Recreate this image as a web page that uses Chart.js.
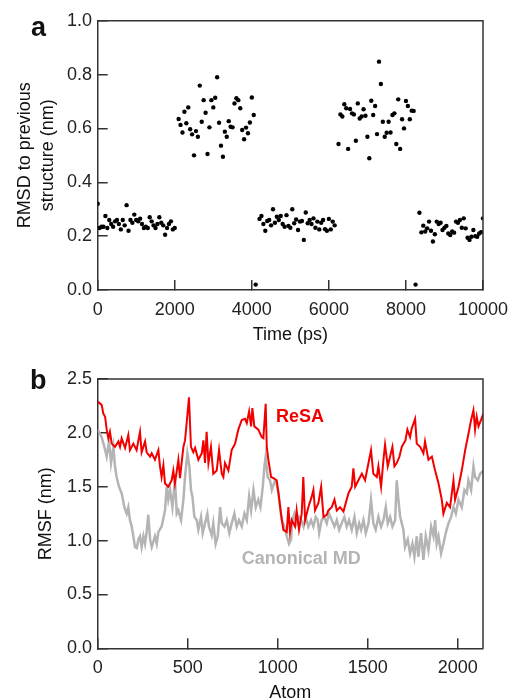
<!DOCTYPE html>
<html>
<head>
<meta charset="utf-8">
<script src="https://cdn.jsdelivr.net/npm/chart.js@4.4.1/dist/chart.umd.min.js"></script>
<style>
html, body { margin: 0; padding: 0; background: #fff; overflow: hidden; }
#wrap { position: relative; width: 515px; height: 700px; }
.panel { position: absolute; left: 0; width: 515px; }
#pa { top: 0; height: 350px; }
#pb { top: 350px; height: 370px; }
.tag { position: absolute; font: bold 27px "Liberation Sans", Arial, sans-serif; line-height: 27px; color: #111; }
</style>
</head>
<body>
<div id="wrap">
	<div class="panel" id="pa"><canvas id="chart-a"></canvas></div>
	<div class="panel" id="pb"><canvas id="chart-b"></canvas></div>
	<div class="tag" style="left:31px; top:14px;">a</div>
	<div class="tag" style="left:30px; top:367px;">b</div>
</div>
<script>
// ── panel a: RMSD to previous structure, one sample every 50 ps ──
var RMSD_STEP = 50;
var rmsdValue = [
	// 0 - 2000 ps
	0.32, 0.23, 0.235, 0.235, 0.275, 0.23, 0.26, 0.245, 0.235, 0.255,
	0.26, 0.245, 0.225, 0.26, 0.24, 0.315, 0.22, 0.26, 0.25, 0.28,
	0.26, 0.255, 0.265, 0.245, 0.23, 0.235, 0.23, 0.27, 0.255, 0.24,
	0.23, 0.245, 0.27, 0.25, 0.24, 0.205, 0.23, 0.245, 0.255, 0.225,
	0.23,
	null,
	// 2100 - 4050 ps
	0.635, 0.613, 0.585, 0.662, 0.619, 0.678, 0.597, 0.578, 0.50, 0.59,
	0.569, 0.759, 0.625, 0.705, 0.658, 0.505, 0.604, 0.705, 0.678, 0.714,
	0.79, 0.621, 0.536, 0.495, 0.588, 0.569, 0.627, 0.606, 0.604, 0.693,
	0.712, 0.705, 0.675, 0.594, 0.56, 0.603, 0.582, 0.622, 0.715, 0.65,
	0.02,
	null,
	// 4200 - 6150 ps
	0.264, 0.275, 0.245, 0.22, 0.256, 0.26, 0.24, 0.30, 0.25, 0.272,
	0.26, 0.275, 0.245, 0.235, 0.278, 0.238, 0.231, 0.30, 0.248, 0.262,
	0.223, 0.254, 0.256, 0.186, 0.288, 0.248, 0.26, 0.245, 0.266, 0.231,
	0.254, 0.225, 0.25, 0.26, 0.226, 0.22, 0.264, 0.225, 0.254, 0.24,
	null,
	// 6250 - 8200 ps
	0.542, 0.652, 0.644, 0.69, 0.675, 0.524, 0.672, 0.656, 0.652, 0.554,
	0.693, 0.637, 0.644, 0.671, 0.647, 0.569, 0.489, 0.703, 0.65, 0.683,
	0.579, 0.848, 0.765, 0.625, 0.569, 0.584, 0.625, 0.585, 0.65, 0.656,
	0.542, 0.708, 0.524, 0.634, 0.60, 0.702, 0.683, 0.634, 0.666, 0.665,
	0.02,
	null,
	// 8350 - 10000 ps
	0.287, 0.214, 0.239, 0.217, 0.229, 0.254, 0.22, 0.18, 0.207, 0.254,
	0.245, 0.25, 0.223, 0.231, 0.238, 0.21, 0.204, 0.217, 0.213, 0.254,
	0.25, 0.26, 0.231, 0.266, 0.229, 0.194, 0.186, 0.198, 0.223, 0.20,
	0.198, 0.21, 0.215, 0.266
];
var timeTicks = [0, 2000, 4000, 6000, 8000, 10000];
var rmsdTicks = [0.0, 0.2, 0.4, 0.6, 0.8, 1.0];

// ── panel b: RMSF per atom ──
var resaAtom = [0, 22, 31, 41, 50, 59, 68, 78, 96, 115,
	124, 133, 152, 170, 179, 198, 216, 235, 244, 263,
	272, 291, 300, 318, 337, 346, 355, 365, 374, 392,
	411, 420, 429, 448, 457, 466, 476, 485, 494, 507,
	518, 531, 541, 559, 578, 587, 596, 605, 615, 629,
	642, 661, 674, 689, 698, 707, 726, 744, 763, 781,
	800, 818, 828, 841, 852, 859, 870, 892, 911, 920,
	933, 939, 948, 963, 976, 994, 1004, 1018, 1031, 1050,
	1059, 1068, 1078, 1096, 1105, 1118, 1133, 1142, 1152, 1170,
	1189, 1198, 1207, 1226, 1241, 1254, 1272, 1281, 1300, 1315,
	1328, 1346, 1365, 1378, 1393, 1411, 1420, 1430, 1448, 1467,
	1485, 1504, 1518, 1531, 1550, 1559, 1574, 1587, 1596, 1611,
	1624, 1637, 1648, 1661, 1676, 1689, 1709, 1720, 1735, 1744,
	1763, 1772, 1791, 1809, 1818, 1837, 1856, 1874, 1893, 1911,
	1920, 1939, 1957, 1976, 1985, 2004, 2022, 2041, 2059, 2074,
	2087, 2096, 2105, 2115, 2129, 2142];
var resaRmsf = [2.29, 2.26, 2.18, 2.15, 2.03, 1.95, 2.01, 1.90, 1.87, 1.92,
	1.87, 1.95, 1.86, 1.98, 1.84, 1.90, 1.84, 2.01, 1.82, 1.92,
	1.82, 1.78, 1.81, 1.75, 1.84, 1.69, 1.59, 1.70, 1.53, 1.50,
	1.56, 1.65, 1.53, 1.75, 1.58, 1.72, 1.87, 1.93, 2.09, 2.33,
	1.87, 1.82, 1.86, 1.75, 1.81, 1.93, 1.72, 2.01, 1.72, 1.87,
	1.62, 1.65, 1.84, 1.62, 1.59, 1.72, 1.65, 1.84, 1.90, 2.03,
	2.12, 2.13, 2.09, 2.20, 2.06, 2.23, 2.06, 2.03, 1.96, 1.95,
	2.27, 1.87, 1.75, 1.59, 1.58, 1.56, 1.44, 1.25, 1.10, 1.08,
	1.31, 1.08, 1.19, 1.13, 1.28, 1.10, 1.25, 1.59, 1.19, 1.31,
	1.41, 1.47, 1.28, 1.35, 1.50, 1.22, 1.24, 1.28, 1.31, 1.38,
	1.28, 1.31, 1.27, 1.35, 1.44, 1.50, 1.67, 1.50, 1.56, 1.62,
	1.56, 1.72, 1.84, 1.62, 1.59, 1.69, 1.50, 1.75, 1.89, 1.69,
	1.78, 1.87, 1.69, 1.72, 1.78, 1.87, 1.93, 2.03, 1.96, 2.04,
	2.13, 1.90, 1.87, 1.81, 1.92, 1.75, 1.78, 1.65, 1.53, 1.38,
	1.25, 1.35, 1.31, 1.56, 1.38, 1.50, 1.65, 1.84, 1.99, 2.12,
	2.21, 2.03, 2.15, 2.06, 2.12, 2.18];
var mdAtom = [0, 22, 37, 50, 63, 74, 87, 96, 105, 118,
	133, 148, 161, 170, 179, 189, 198, 207, 217, 226,
	235, 244, 254, 263, 272, 281, 291, 300, 318, 328,
	337, 355, 374, 383, 392, 402, 415, 429, 439, 448,
	463, 476, 485, 498, 509, 518, 526, 537, 550, 559,
	574, 583, 596, 609, 618, 633, 642, 655, 667, 680,
	689, 704, 717, 731, 744, 759, 772, 785, 800, 815,
	828, 841, 852, 865, 878, 892, 904, 917, 926, 933,
	944, 957, 967, 985, 994, 1004, 1013, 1022, 1037, 1050,
	1063, 1074, 1081, 1092, 1105, 1118, 1130, 1143, 1155, 1170,
	1185, 1198, 1211, 1222, 1230, 1244, 1259, 1272, 1285, 1300,
	1315, 1328, 1341, 1355, 1370, 1383, 1396, 1411, 1426, 1439,
	1452, 1463, 1476, 1489, 1504, 1518, 1531, 1544, 1559, 1574,
	1587, 1600, 1611, 1624, 1637, 1652, 1661, 1670, 1680, 1689,
	1698, 1707, 1722, 1735, 1748, 1759, 1772, 1781, 1796, 1809,
	1822, 1837, 1852, 1865, 1874, 1883, 1893, 1907, 1920, 1933,
	1948, 1963, 1976, 1989, 2004, 2022, 2037, 2050, 2059, 2074,
	2087, 2096, 2111, 2124, 2142];
var mdRmsf = [2.03, 1.96, 1.87, 1.78, 1.92, 1.72, 1.87, 1.69, 1.59, 1.50,
	1.44, 1.31, 1.25, 1.31, 1.19, 1.13, 1.04, 0.94, 0.93, 1.01,
	1.04, 0.94, 1.04, 0.97, 1.08, 1.24, 1.01, 0.94, 1.04, 0.97,
	1.08, 1.13, 1.28, 1.50, 1.38, 1.47, 1.31, 1.56, 1.25, 1.28,
	1.19, 1.38, 1.59, 1.81, 1.69, 1.47, 1.41, 1.22, 1.19, 1.10,
	1.22, 1.07, 1.16, 1.25, 1.13, 1.05, 1.16, 0.97, 1.04, 1.31,
	1.16, 1.13, 1.19, 1.07, 1.16, 1.25, 1.13, 1.19, 1.13, 1.25,
	1.19, 1.41, 1.28, 1.47, 1.31, 1.38, 1.31, 1.50, 1.69, 1.78,
	1.59, 1.56, 1.47, 1.56, 1.53, 1.44, 1.31, 1.19, 1.13, 1.04,
	0.97, 1.01, 1.19, 1.25, 1.16, 1.22, 1.19, 1.13, 1.22, 1.13,
	1.19, 1.13, 1.22, 1.19, 1.07, 1.19, 1.22, 1.16, 1.25, 1.19,
	1.13, 1.19, 1.10, 1.16, 1.22, 1.13, 1.19, 1.10, 1.22, 1.07,
	1.16, 1.10, 1.19, 1.07, 1.16, 1.38, 1.16, 1.10, 1.22, 1.13,
	1.19, 1.31, 1.16, 1.22, 1.13, 1.19, 1.56, 1.38, 1.22, 1.16,
	1.10, 0.94, 1.01, 0.88, 0.97, 0.85, 1.04, 0.85, 1.07, 0.82,
	1.04, 0.91, 1.13, 1.04, 1.19, 0.97, 1.04, 0.88, 0.97, 1.07,
	1.16, 1.22, 1.31, 1.25, 1.38, 1.31, 1.47, 1.44, 1.56, 1.47,
	1.69, 1.59, 1.56, 1.62, 1.65];
var atomMax = 2140;
var atomTicks = [0, 500, 1000, 1500, 2000];
var rmsfTicks = [0.0, 0.5, 1.0, 1.5, 2.0, 2.5];

var FONT = '"Liberation Sans", Arial, sans-serif';
var AXIS = '#333';
var RED = '#f20000';
var GREY = '#b4b4b4';

function pairs(xs, ys) {
	return xs.map(function (x, i) { return { x: x, y: ys[i] }; });
}

// top and right edges of the box
var framePlugin = {
	id: 'frame',
	afterDraw: function (chart) {
		var a = chart.chartArea, ctx = chart.ctx;
		ctx.save();
		ctx.strokeStyle = AXIS;
		ctx.lineWidth = 1.5;
		ctx.beginPath();
		ctx.moveTo(a.left, a.top);
		ctx.lineTo(a.right, a.top);
		ctx.lineTo(a.right, a.bottom);
		ctx.stroke();
		ctx.restore();
	}
};

function fixedTicks(values) {
	return function (s) { s.ticks = values.map(function (v) { return { value: v }; }); };
}

// the layout paddings alone decide where the plot box sits
function noLabelMargins(s) {
	s.paddingLeft = 0; s.paddingRight = 0; s.paddingTop = 0; s.paddingBottom = 0;
}

function axisX(max, tickValues, title, height, titlePad) {
	return {
		type: 'linear', min: 0, max: max,
		afterBuildTicks: fixedTicks(tickValues),
		ticks: { padding: 19, color: '#222', font: { family: FONT, size: 18 }, maxRotation: 0, autoSkip: false, callback: function (v) { return String(v); } },
		grid: { drawOnChartArea: false, drawTicks: true, tickLength: -10, color: AXIS, lineWidth: 1.5 },
		border: { display: true, color: AXIS, width: 1.5 },
		title: { display: true, text: title, color: '#111', font: { family: FONT, size: 18, lineHeight: 1.28 }, padding: { top: 0, bottom: titlePad } },
		afterFit: function (s) { s.height = height; noLabelMargins(s); }
	};
}

function axisY(max, tickValues, title, titlePad) {
	return {
		min: 0, max: max,
		afterBuildTicks: fixedTicks(tickValues),
		ticks: { padding: 15.7, color: '#222', font: { family: FONT, size: 18 }, autoSkip: false, callback: function (v) { return v.toFixed(1); } },
		grid: { drawOnChartArea: false, drawTicks: true, tickLength: -10, color: AXIS, lineWidth: 1.5 },
		border: { display: true, color: AXIS, width: 1.5 },
		title: { display: true, text: title, color: '#111', font: { family: FONT, size: 18, lineHeight: 1.28 }, padding: { top: titlePad, bottom: 0 } },
		afterFit: function (s) { s.width = 97.7; noLabelMargins(s); }
	};
}

new Chart(document.getElementById('chart-a'), {
	type: 'scatter',
	data: {
		datasets: [{
			data: rmsdValue.map(function (v, i) { return { x: i * RMSD_STEP, y: v }; }),
			pointRadius: 2.2, pointBorderWidth: 0, pointBackgroundColor: '#000'
		}]
	},
	options: {
		animation: false, responsive: true, maintainAspectRatio: false,
		layout: { padding: { top: 20.7, right: 32, bottom: 0, left: 0 } },
		plugins: { legend: { display: false }, tooltip: { enabled: false } },
		scales: {
			x: axisX(timeTicks[timeTicks.length - 1], timeTicks, 'Time (ps)', 60, 3.5),
			y: axisY(rmsdTicks[rmsdTicks.length - 1], rmsdTicks, ['RMSD to previous', 'structure (nm)'], 13.5)
		}
	},
	plugins: [framePlugin]
});

// series names written inside the plot
var seriesLabelPlugin = {
	id: 'seriesLabels',
	afterDatasetsDraw: function (chart) {
		var ctx = chart.ctx, x = chart.scales.x, y = chart.scales.y;
		ctx.save();
		ctx.font = 'bold 18px ' + FONT;
		ctx.textAlign = 'center';
		ctx.textBaseline = 'middle';
		ctx.fillStyle = RED;
		ctx.fillText('ReSA', x.getPixelForValue(1124), y.getPixelForValue(2.15));
		ctx.fillStyle = GREY;
		ctx.fillText('Canonical MD', x.getPixelForValue(1130), y.getPixelForValue(0.83));
		ctx.restore();
	}
};

new Chart(document.getElementById('chart-b'), {
	type: 'line',
	data: {
		datasets: [
			{ label: 'ReSA', data: pairs(resaAtom, resaRmsf), borderColor: RED, borderWidth: 2, pointRadius: 0, tension: 0 },
			{ label: 'Canonical MD', data: pairs(mdAtom, mdRmsf), borderColor: GREY, borderWidth: 2.5, pointRadius: 0, tension: 0 }
		]
	},
	options: {
		animation: false, responsive: true, maintainAspectRatio: false,
		layout: { padding: { top: 29, right: 32, bottom: 0, left: 0 } },
		plugins: { legend: { display: false }, tooltip: { enabled: false } },
		scales: {
			x: axisX(atomMax, atomTicks, 'Atom', 71.7, 15),
			y: axisY(rmsfTicks[rmsfTicks.length - 1], rmsfTicks, 'RMSF (nm)', 34.5)
		}
	},
	plugins: [framePlugin, seriesLabelPlugin]
});
</script>
</body>
</html>
